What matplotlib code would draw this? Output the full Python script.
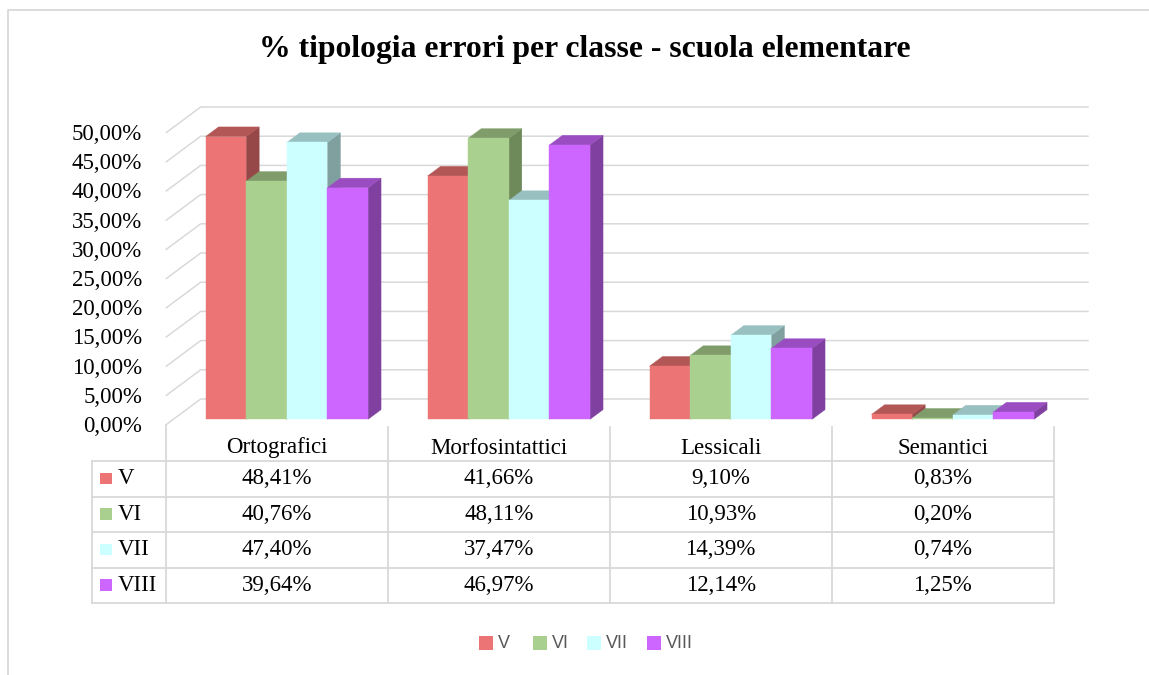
import matplotlib
matplotlib.use("Agg")
import matplotlib.pyplot as plt
from matplotlib.patches import Polygon, Rectangle

# ─── Dati ──────────────────────────────────────────────────────────────────────

categories = ['Ortografici', 'Morfosintattici', 'Lessicali', 'Semantici']
series = ['V', 'VI', 'VII', 'VIII']
v_vals = [48.41, 41.66, 9.10, 0.83]
vi_vals = [40.76, 48.11, 10.93, 0.20]
vii_vals = [47.40, 37.47, 14.39, 0.74]
viii_vals = [39.64, 46.97, 12.14, 1.25]
y_ticks = [0, 5, 10, 15, 20, 25, 30, 35, 40, 45, 50]

values = [v_vals, vi_vals, vii_vals, viii_vals]

# colori: fronte, sopra, lato
COLORS = [
    ('#EC7474', '#B35656', '#964848'),
    ('#A9D08E', '#7F9C6A', '#6E895A'),
    ('#CCFFFF', '#99C0C0', '#80A0A0'),
    ('#CC66FF', '#994DC0', '#8040A0'),
]

GRID = '#D9D9D9'
SERIF = 'Liberation Serif'

# ─── Geometria (pixel della figura) ────────────────────────────────────────────

W, H = 1149, 675
COL_W = 222.0          # px per categoria
X0 = 165.7             # bordo sinistro piano frontale
Y0 = 425.0             # 0% sul piano frontale
PX_PCT = 5.84          # px per 1%
DX = 35.0 / COL_W      # profondità in unità categoria
DY = 26.0 / PX_PCT     # profondità in %
D0, D1 = 0.22, 0.59    # profondità delle barre
BAR_W = 0.183
BAR_START = 0.145


def P(x, v, d):
    return (x + d * DX, v + d * DY)


def pct(v):
    return f"{v:.2f}%".replace('.', ',')


fig = plt.figure(figsize=(W / 100, H / 100), dpi=100)

# overlay in pixel per titolo, tabella, legenda
ov = fig.add_axes([0, 0, 1, 1])
ov.set_xlim(0, W)
ov.set_ylim(H, 0)
ov.axis('off')

# assi dati: x in categorie, y in %
xmax, ymax = 4.2, 55.0
ax = fig.add_axes([X0 / W, (H - Y0) / H, xmax * COL_W / W, ymax * PX_PCT / H])
ax.set_xlim(0, xmax)
ax.set_ylim(0, ymax)
ax.axis('off')

# griglia: parete di fondo + parete sinistra
for t in y_ticks:
    xa, ya = P(0, t, 0)
    xb, yb = P(0, t, 1)
    xc, yc = P(len(categories), t, 1)
    ax.plot([xa, xb, xc], [ya, yb, yc], color=GRID, lw=1.1,
            solid_capstyle='butt', clip_on=False, zorder=1)

# barre 3D
for ci in range(len(categories)):
    for si in range(len(series)):
        h = values[si][ci]
        xa = ci + BAR_START + si * BAR_W
        xb = xa + BAR_W
        front, top, side = COLORS[si]
        side_poly = [P(xb, 0, D0), P(xb, 0, D1), P(xb, h, D1), P(xb, h, D0)]
        top_poly = [P(xa, h, D0), P(xb, h, D0), P(xb, h, D1), P(xa, h, D1)]
        front_poly = [P(xa, 0, D0), P(xb, 0, D0), P(xb, h, D0), P(xa, h, D0)]
        for poly, c in ((side_poly, side), (top_poly, top), (front_poly, front)):
            ax.add_patch(Polygon(poly, closed=True, facecolor=c, edgecolor=c,
                                 lw=0.3, clip_on=False, zorder=2))

# etichette asse y
for t in y_ticks:
    ov.text(142, Y0 - t * PX_PCT + 1.5, pct(t), ha='right', va='center',
            fontsize=16.5, family=SERIF, color='black')

# ─── Tabella dati ──────────────────────────────────────────────────────────────

LBL_X = 92
row_lines = [461, 496.5, 532, 567.5, 603]
col_x = [X0 + i * COL_W for i in range(len(categories) + 1)]

for y in row_lines:
    ov.plot([LBL_X, col_x[-1]], [y, y], color=GRID, lw=1.3, zorder=1)
ov.plot([LBL_X, LBL_X], [row_lines[0], row_lines[-1]], color=GRID, lw=1.3)
ov.plot([col_x[0], col_x[0]], [Y0, row_lines[-1]], color=GRID, lw=1.3)
for x in col_x[1:]:
    ov.plot([x, x], [427, row_lines[-1]], color=GRID, lw=1.3)

for ci, cat in enumerate(categories):
    cx = (col_x[ci] + col_x[ci + 1]) / 2
    ov.text(cx, 448, cat, ha='center', va='center', fontsize=16.5,
            family=SERIF, color='black')

for si, name in enumerate(series):
    cy = (row_lines[si] + row_lines[si + 1]) / 2
    ov.add_patch(Rectangle((100, cy - 6), 11.7, 11.7, facecolor=COLORS[si][0],
                           edgecolor='none'))
    ov.text(118, cy, name, ha='left', va='center', fontsize=16.5,
            family=SERIF, color='black')
    for ci in range(len(categories)):
        cx = (col_x[ci] + col_x[ci + 1]) / 2
        ov.text(cx, cy, pct(values[si][ci]), ha='center', va='center',
                fontsize=16.5, family=SERIF, color='black')

# ─── Titolo, legenda, bordo ────────────────────────────────────────────────────

ov.text(585, 50, '% tipologia errori per classe - scuola elementare',
        ha='center', va='center', fontsize=22.8, fontweight='bold',
        family=SERIF, color='black')

leg_sq = [479.3, 533.3, 587.3, 647.3]
for si, name in enumerate(series):
    ov.add_patch(Rectangle((leg_sq[si], 636), 13.5, 13.5,
                           facecolor=COLORS[si][0], edgecolor='none'))
    ov.text(leg_sq[si] + 19, 643, name, ha='left', va='center', fontsize=13,
            family='Liberation Sans', color='#595959')

ov.plot([7.5, 7.5, W + 5], [H + 5, 9.5, 9.5], color=GRID, lw=1.3)

fig.savefig('out.png', dpi=100)
